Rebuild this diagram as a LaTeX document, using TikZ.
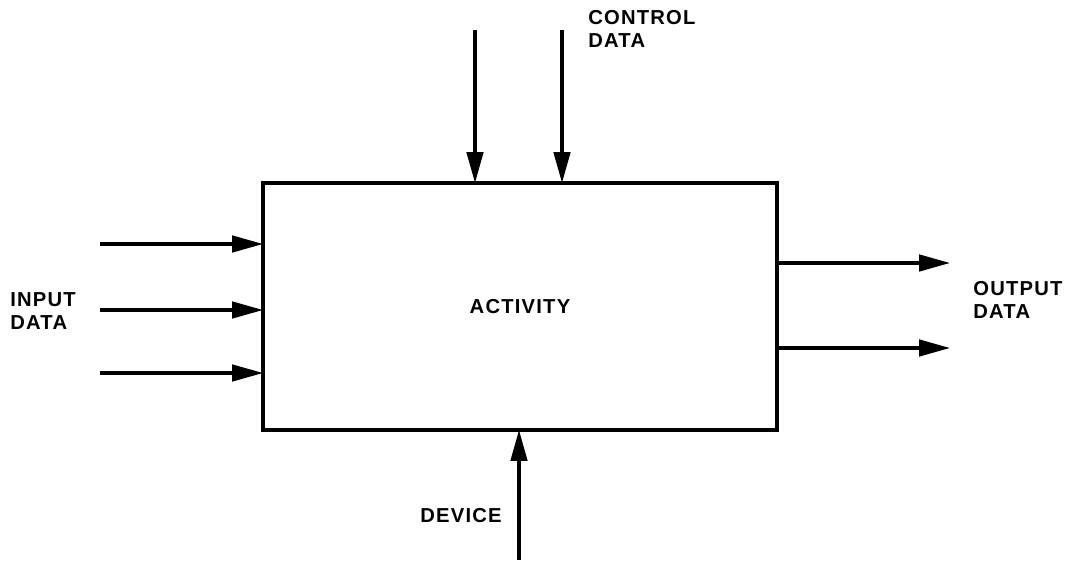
\documentclass[tikz,border=0pt]{standalone}
\usepackage{fontspec}
\setmainfont{Liberation Sans}[LetterSpace=6]
\usetikzlibrary{arrows.meta,positioning,calc}

\begin{document}
\begin{tikzpicture}[x=0.02cm,y=-0.02cm,
  every node/.style={font=\bfseries\fontsize{11.5}{12.6}\selectfont},
  actbox/.style={draw=black,line width=1.8pt,minimum width=10.28cm,minimum height=4.94cm,inner sep=0pt,outer sep=0pt},
  lbl/.style={align=left,inner sep=0pt},
  ar/.style={-{Triangle[length=6.2mm,width=3.3mm]},line width=1.8pt}]
\useasboundingbox (0,0) rectangle (1069,564);
\node[actbox] (act) at (520,306.5) {ACTIVITY};
% input side
\coordinate (in1) at (100,244);
\coordinate (in2) at (100,310);
\coordinate (in3) at (100,373);
\node[lbl,anchor=west] (inl) at (10,311) {INPUT\\DATA};
% control side
\coordinate (c1) at (475,30);
\coordinate (c2) at (562,30);
\node[lbl,anchor=west] (ctl) at (588,29) {CONTROL\\DATA};
% output side
\coordinate (o1) at (950,263);
\coordinate (o2) at (950,348);
\node[lbl,anchor=west] (outl) at (973,300) {OUTPUT\\DATA};
% device
\coordinate (dv) at (519,560);
\node[lbl,anchor=west] (dvl) at (420,516) {DEVICE};
\draw[ar] (in1) -- (in1 -| act.west);
\draw[ar] (in2) -- (in2 -| act.west);
\draw[ar] (in3) -- (in3 -| act.west);
\draw[ar] (c1) -- (c1 |- act.north);
\draw[ar] (c2) -- (c2 |- act.north);
\draw[ar] (o1 -| act.east) -- (o1);
\draw[ar] (o2 -| act.east) -- (o2);
\draw[ar] (dv) -- (dv |- act.south);
\end{tikzpicture}
\end{document}
